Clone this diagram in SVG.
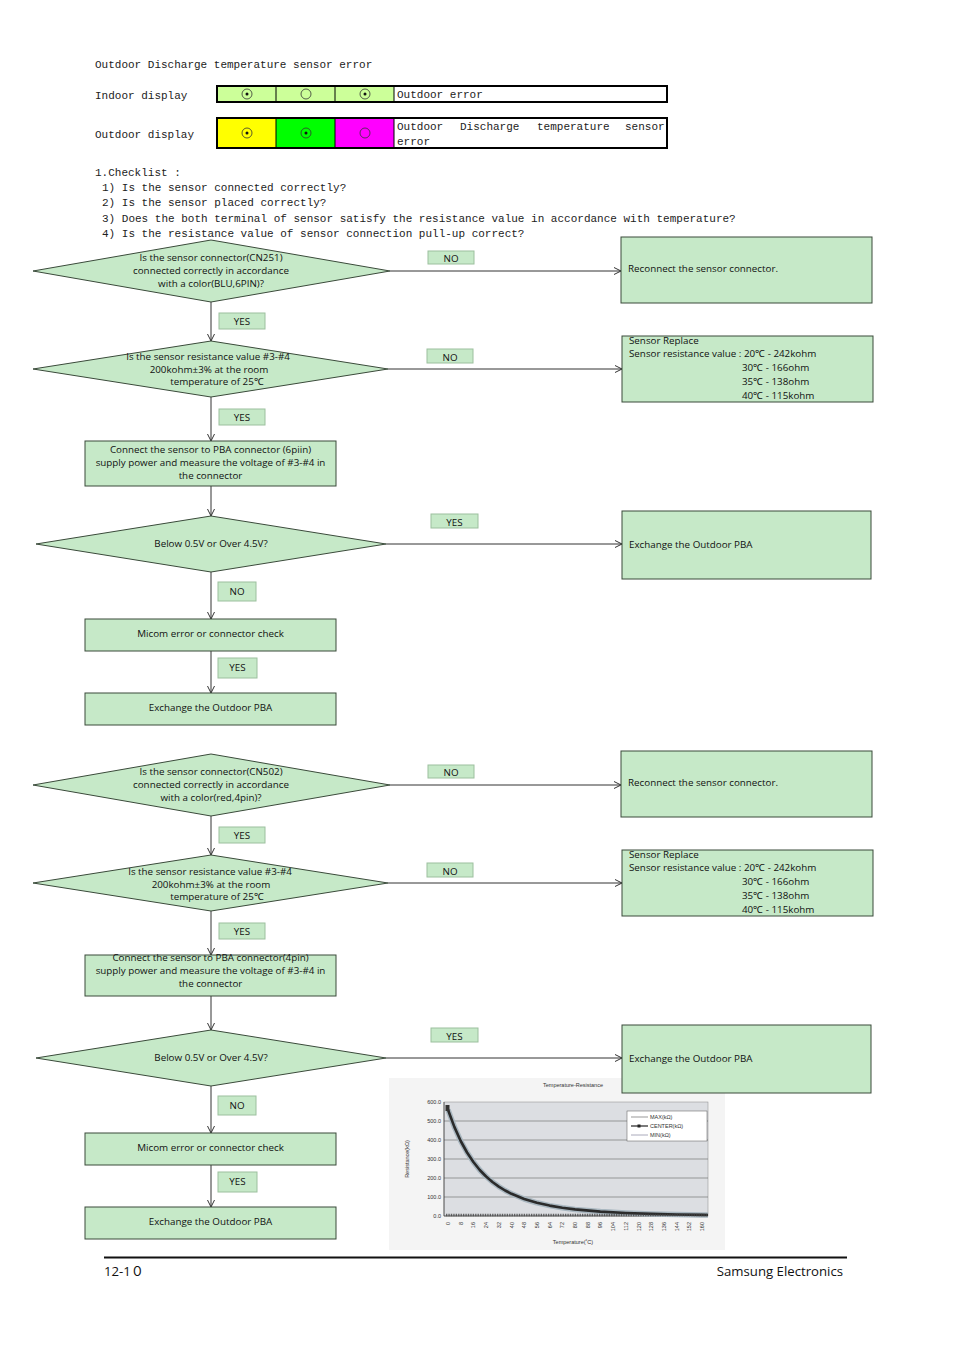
<svg xmlns="http://www.w3.org/2000/svg" width="954" height="1350" viewBox="0 0 954 1350">
<defs>
<style>
.mono{font-family:"Liberation Mono",monospace;font-size:11px;fill:#222}
.t{font-family:"Open Sans","Liberation Sans",sans-serif;font-size:9.8px;fill:#111}
.tc{font-family:"Open Sans","Liberation Sans",sans-serif;font-size:9.8px;fill:#111;text-anchor:middle}
.node{fill:#c6e9c8;stroke:#3a4a3a;stroke-width:1}
.lab{fill:#c6e9c8;stroke:#9cbf9e;stroke-width:1}
.edge{stroke:#333;stroke-width:1;fill:none;marker-end:url(#arr)}
.ch{font-family:"Liberation Sans","DejaVu Sans",sans-serif;font-size:5.5px;fill:#333}
.foot{font-family:"Open Sans","Liberation Sans","Noto Sans CJK JP",sans-serif;font-size:13.2px;fill:#111}
</style>
<marker id="arr" viewBox="0 0 8 8" refX="7" refY="4" markerWidth="8" markerHeight="8" orient="auto" markerUnits="userSpaceOnUse">
<path d="M0,0.5 L7,4 L0,7.5" fill="none" stroke="#333" stroke-width="1"/>
</marker>
</defs>
<rect width="954" height="1350" fill="#fff"/>

<!-- header -->
<g id="header">
<text class="mono" x="95" y="68">Outdoor Discharge temperature sensor error</text>
<text class="mono" x="95" y="99">Indoor display</text>
<text class="mono" x="95" y="138">Outdoor display</text>
<rect x="217" y="86" width="177" height="16" fill="#ccff99"/>
<rect x="394" y="86" width="273" height="16" fill="#fff"/>
<line x1="276" y1="86" x2="276" y2="102" stroke="#000"/>
<line x1="335" y1="86" x2="335" y2="102" stroke="#000"/>
<line x1="394" y1="86" x2="394" y2="102" stroke="#000"/>
<rect x="217" y="86" width="450" height="16" fill="none" stroke="#000" stroke-width="2"/>
<circle cx="247" cy="94" r="5" fill="none" stroke="#333" stroke-width="0.8"/><circle cx="247" cy="94" r="1.5" fill="#111"/>
<circle cx="306" cy="94" r="5" fill="none" stroke="#333" stroke-width="0.8"/>
<circle cx="365" cy="94" r="5" fill="none" stroke="#333" stroke-width="0.8"/><circle cx="365" cy="94" r="1.5" fill="#111"/>
<text class="mono" x="397" y="98">Outdoor error</text>
<rect x="217" y="118" width="59" height="30" fill="#ffff00"/>
<rect x="276" y="118" width="59" height="30" fill="#00ff00"/>
<rect x="335" y="118" width="59" height="30" fill="#ff00ff"/>
<rect x="394" y="118" width="273" height="30" fill="#fff"/>
<line x1="276" y1="118" x2="276" y2="148" stroke="#000"/>
<line x1="335" y1="118" x2="335" y2="148" stroke="#000"/>
<line x1="394" y1="118" x2="394" y2="148" stroke="#000"/>
<rect x="217" y="118" width="450" height="30" fill="none" stroke="#000" stroke-width="2"/>
<circle cx="247" cy="133" r="5" fill="none" stroke="#333" stroke-width="0.8"/><circle cx="247" cy="133" r="1.5" fill="#111"/>
<circle cx="306" cy="133" r="5" fill="none" stroke="#333" stroke-width="0.8"/><circle cx="306" cy="133" r="1.5" fill="#111"/>
<circle cx="365" cy="133" r="5" fill="none" stroke="#333" stroke-width="0.8"/>
<text class="mono" y="130"><tspan x="397">Outdoor</tspan><tspan x="460">Discharge</tspan><tspan x="537">temperature</tspan><tspan x="625">sensor</tspan></text>
<text class="mono" x="397" y="145">error</text>
<text class="mono" x="95" y="176">1.Checklist :</text>
<text class="mono" x="102" y="191">1) Is the sensor connected correctly?</text>
<text class="mono" x="102" y="206">2) Is the sensor placed correctly?</text>
<text class="mono" x="102" y="222">3) Does the both terminal of sensor satisfy the resistance value in accordance with temperature?</text>
<text class="mono" x="102" y="237">4) Is the resistance value of sensor connection pull-up correct?</text>
</g>

<!-- chart (raster-like figure) -->
<g id="chart">
<rect x="389" y="1078" width="336" height="172" fill="#f4f4f4"/>
<text class="ch" x="573" y="1087" text-anchor="middle">Temperature-Resistance</text>
<rect x="444" y="1102" width="264" height="114" fill="#dcdee2" stroke="#888" stroke-width="0.5"/>
<g stroke="#666" stroke-width="0.6">
<line x1="444" y1="1121" x2="708" y2="1121"/>
<line x1="444" y1="1140" x2="708" y2="1140"/>
<line x1="444" y1="1159" x2="708" y2="1159"/>
<line x1="444" y1="1178" x2="708" y2="1178"/>
<line x1="444" y1="1197" x2="708" y2="1197"/>
</g>
<line x1="444" y1="1102" x2="444" y2="1216" stroke="#333" stroke-width="0.7"/>
<line x1="444" y1="1216" x2="708" y2="1216" stroke="#333" stroke-width="0.7"/>
<g class="ch" text-anchor="end">
<text x="441" y="1104">600.0</text>
<text x="441" y="1123">500.0</text>
<text x="441" y="1142">400.0</text>
<text x="441" y="1161">300.0</text>
<text x="441" y="1180">200.0</text>
<text x="441" y="1199">100.0</text>
<text x="441" y="1218">0.0</text>
</g>
<text class="ch" x="0" y="0" text-anchor="middle" transform="translate(409,1159) rotate(-90)">Resistance(kΩ)</text>
<path d="M448,1109.8 L454.35,1126.9 L460.7,1141 L467.05,1152.5 L473.4,1162 L479.75,1170 L486.1,1176.5 L492.45,1182 L498.8,1186.6 L505.15,1190.5 L511.5,1193.8 L524.2,1199 L536.9,1202.8 L549.6,1205.6 L562.3,1207.8 L575,1209.4 L600.4,1211.6 L625.8,1213 L651.2,1213.9 L676.6,1214.5 L702,1214.9 L708,1215" fill="none" stroke="#a9b7c0" stroke-width="5.5" stroke-linejoin="round"/>
<path d="M448,1109.8 L454.35,1126.9 L460.7,1141 L467.05,1152.5 L473.4,1162 L479.75,1170 L486.1,1176.5 L492.45,1182 L498.8,1186.6 L505.15,1190.5 L511.5,1193.8 L524.2,1199 L536.9,1202.8 L549.6,1205.6 L562.3,1207.8 L575,1209.4 L600.4,1211.6 L625.8,1213 L651.2,1213.9 L676.6,1214.5 L702,1214.9 L708,1215" fill="none" stroke="#2b2b2b" stroke-width="2.6" stroke-linejoin="round"/>
<rect x="445.5" y="1105" width="4" height="6" fill="#333"/>
<line x1="446" y1="1215" x2="708" y2="1215" stroke="#444" stroke-width="2.5" stroke-dasharray="0.8 0.9"/>
<g class="ch">
<text transform="translate(450,1222) rotate(-90)" text-anchor="end">0</text>
<text transform="translate(462.7,1222) rotate(-90)" text-anchor="end">8</text>
<text transform="translate(475.4,1222) rotate(-90)" text-anchor="end">16</text>
<text transform="translate(488.1,1222) rotate(-90)" text-anchor="end">24</text>
<text transform="translate(500.8,1222) rotate(-90)" text-anchor="end">32</text>
<text transform="translate(513.5,1222) rotate(-90)" text-anchor="end">40</text>
<text transform="translate(526.2,1222) rotate(-90)" text-anchor="end">48</text>
<text transform="translate(538.9,1222) rotate(-90)" text-anchor="end">56</text>
<text transform="translate(551.6,1222) rotate(-90)" text-anchor="end">64</text>
<text transform="translate(564.3,1222) rotate(-90)" text-anchor="end">72</text>
<text transform="translate(577,1222) rotate(-90)" text-anchor="end">80</text>
<text transform="translate(589.7,1222) rotate(-90)" text-anchor="end">88</text>
<text transform="translate(602.4,1222) rotate(-90)" text-anchor="end">96</text>
<text transform="translate(615.1,1222) rotate(-90)" text-anchor="end">104</text>
<text transform="translate(627.8,1222) rotate(-90)" text-anchor="end">112</text>
<text transform="translate(640.5,1222) rotate(-90)" text-anchor="end">120</text>
<text transform="translate(653.2,1222) rotate(-90)" text-anchor="end">128</text>
<text transform="translate(665.9,1222) rotate(-90)" text-anchor="end">136</text>
<text transform="translate(678.6,1222) rotate(-90)" text-anchor="end">144</text>
<text transform="translate(691.3,1222) rotate(-90)" text-anchor="end">152</text>
<text transform="translate(704,1222) rotate(-90)" text-anchor="end">160</text>
</g>
<text class="ch" x="573" y="1244" text-anchor="middle">Temperature(˚C)</text>
<rect x="627" y="1111" width="80" height="30" fill="#fff" stroke="#555" stroke-width="0.5"/>
<line x1="631" y1="1117" x2="648" y2="1117" stroke="#999" stroke-width="1"/>
<line x1="631" y1="1126" x2="648" y2="1126" stroke="#222" stroke-width="1.2"/>
<rect x="637.5" y="1124.5" width="3" height="3" fill="#222"/>
<line x1="631" y1="1135" x2="648" y2="1135" stroke="#aab" stroke-width="1"/>
<text class="ch" x="650" y="1119">MAX(kΩ)</text>
<text class="ch" x="650" y="1128">CENTER(kΩ)</text>
<text class="ch" x="650" y="1137">MIN(kΩ)</text>
</g>

<!-- connectors -->
<g id="connectors">
<line class="edge" x1="211" y1="302" x2="211" y2="341"/>
<line class="edge" x1="390" y1="271" x2="621" y2="271"/>
<line class="edge" x1="211" y1="397" x2="211" y2="441"/>
<line class="edge" x1="388" y1="369" x2="622" y2="369"/>
<line class="edge" x1="211" y1="486" x2="211" y2="516"/>
<line class="edge" x1="386" y1="544" x2="622" y2="544"/>
<line class="edge" x1="211" y1="572" x2="211" y2="619"/>
<line class="edge" x1="211" y1="651" x2="211" y2="693"/>

<line class="edge" x1="211" y1="816" x2="211" y2="855"/>
<line class="edge" x1="390" y1="785" x2="621" y2="785"/>
<line class="edge" x1="211" y1="911" x2="211" y2="955"/>
<line class="edge" x1="388" y1="883" x2="622" y2="883"/>
<line class="edge" x1="211" y1="996" x2="211" y2="1030"/>
<line class="edge" x1="386" y1="1058" x2="622" y2="1058"/>
<line class="edge" x1="211" y1="1086" x2="211" y2="1133"/>
<line class="edge" x1="211" y1="1165" x2="211" y2="1207"/>
</g>

<!-- edge labels -->
<g id="labels">
<rect class="lab" x="428" y="251" width="46" height="13"/><text class="tc" x="451" y="261.5">NO</text>
<rect class="lab" x="219" y="313" width="46" height="16"/><text class="tc" x="242" y="324.5">YES</text>
<rect class="lab" x="427" y="349" width="46" height="14"/><text class="tc" x="450" y="360.5">NO</text>
<rect class="lab" x="219" y="409" width="46" height="16"/><text class="tc" x="242" y="420.5">YES</text>
<rect class="lab" x="431" y="514" width="47" height="14"/><text class="tc" x="454.5" y="525.5">YES</text>
<rect class="lab" x="218" y="582" width="38" height="19"/><text class="tc" x="237" y="594.5">NO</text>
<rect class="lab" x="218" y="658" width="39" height="20"/><text class="tc" x="237.5" y="671">YES</text>

<rect class="lab" x="428" y="765" width="46" height="13"/><text class="tc" x="451" y="775.5">NO</text>
<rect class="lab" x="219" y="827" width="46" height="16"/><text class="tc" x="242" y="838.5">YES</text>
<rect class="lab" x="427" y="863" width="46" height="14"/><text class="tc" x="450" y="874.5">NO</text>
<rect class="lab" x="219" y="923" width="46" height="16"/><text class="tc" x="242" y="934.5">YES</text>
<rect class="lab" x="431" y="1028" width="47" height="14"/><text class="tc" x="454.5" y="1039.5">YES</text>
<rect class="lab" x="218" y="1096" width="38" height="19"/><text class="tc" x="237" y="1108.5">NO</text>
<rect class="lab" x="218" y="1172" width="39" height="20"/><text class="tc" x="237.5" y="1185">YES</text>
</g>

<!-- flowchart 1 -->
<g id="d1"><polygon class="node" points="211,240 390,271 211,302 33,271"/>
<text class="tc" x="211" y="261">Is the sensor connector(CN251)</text>
<text class="tc" x="211" y="274">connected correctly in accordance</text>
<text class="tc" x="211" y="287">with a color(BLU,6PIN)?</text></g>
<g id="r1"><rect class="node" x="621" y="237" width="251" height="66"/>
<text class="t" x="628" y="272">Reconnect the sensor connector.</text></g>
<g id="d2"><polygon class="node" points="211,341 388,369 211,397 33,369"/>
<text class="tc" x="208" y="360">Is the sensor resistance value #3-#4</text>
<text class="tc" x="209" y="373">200kohm±3% at the room</text>
<text class="tc" x="217" y="385">temperature of 25℃</text></g>
<g id="r2"><rect class="node" x="622" y="336" width="251" height="66"/>
<text class="t" x="629" y="344">Sensor Replace</text>
<text class="t" x="629" y="357">Sensor resistance value : 20℃ -  242kohm</text>
<text class="t" x="742" y="371">30℃ -  166ohm</text>
<text class="t" x="742" y="385">35℃ -  138ohm</text>
<text class="t" x="742" y="399">40℃ -  115kohm</text></g>
<g id="b1"><rect class="node" x="85" y="441" width="251" height="45"/>
<text class="tc" x="210.5" y="453">Connect the sensor to PBA connector (6piin)</text>
<text class="tc" x="210.5" y="466">supply power and measure the voltage of #3-#4 in</text>
<text class="tc" x="210.5" y="479">the connector</text></g>
<g id="d3"><polygon class="node" points="211,516 386,544 211,572 36,544"/>
<text class="tc" x="211" y="547">Below 0.5V or Over 4.5V?</text></g>
<g id="r3"><rect class="node" x="622" y="511" width="249" height="68"/>
<text class="t" x="629" y="548">Exchange the Outdoor PBA</text></g>
<g id="b2"><rect class="node" x="85" y="619" width="251" height="32"/>
<text class="tc" x="210.5" y="637">Micom error or connector check</text></g>
<g id="b3"><rect class="node" x="85" y="693" width="251" height="32"/>
<text class="tc" x="210.5" y="711">Exchange the Outdoor PBA</text></g>

<!-- flowchart 2 -->
<g id="d1b"><polygon class="node" points="211,754 390,785 211,816 33,785"/>
<text class="tc" x="211" y="775">Is the sensor connector(CN502)</text>
<text class="tc" x="211" y="788">connected correctly in accordance</text>
<text class="tc" x="211" y="801">with a color(red,4pin)?</text></g>
<g id="r1b"><rect class="node" x="621" y="751" width="251" height="66"/>
<text class="t" x="628" y="786">Reconnect the sensor connector.</text></g>
<g id="d2b"><polygon class="node" points="211,855 388,883 211,911 33,883"/>
<text class="tc" x="210" y="875">Is the sensor resistance value #3-#4</text>
<text class="tc" x="211" y="888">200kohm±3% at the room</text>
<text class="tc" x="217" y="900">temperature of 25℃</text></g>
<g id="r2b"><rect class="node" x="622" y="850" width="251" height="66"/>
<text class="t" x="629" y="858">Sensor Replace</text>
<text class="t" x="629" y="871">Sensor resistance value : 20℃ -  242kohm</text>
<text class="t" x="742" y="885">30℃ -  166ohm</text>
<text class="t" x="742" y="899">35℃ -  138ohm</text>
<text class="t" x="742" y="913">40℃ -  115kohm</text></g>
<g id="b1b"><rect class="node" x="85" y="955" width="251" height="41"/>
<text class="tc" x="210.5" y="961">Connect the sensor to PBA connector(4pin)</text>
<text class="tc" x="210.5" y="974">supply power and measure the voltage of #3-#4 in</text>
<text class="tc" x="210.5" y="987">the connector</text></g>
<g id="d3b"><polygon class="node" points="211,1030 386,1058 211,1086 36,1058"/>
<text class="tc" x="211" y="1061">Below 0.5V or Over 4.5V?</text></g>
<g id="r3b"><rect class="node" x="622" y="1025" width="249" height="68"/>
<text class="t" x="629" y="1062">Exchange the Outdoor PBA</text></g>
<g id="b2b"><rect class="node" x="85" y="1133" width="251" height="32"/>
<text class="tc" x="210.5" y="1151">Micom error or connector check</text></g>
<g id="b3b"><rect class="node" x="85" y="1207" width="251" height="32"/>
<text class="tc" x="210.5" y="1225">Exchange the Outdoor PBA</text></g>

<!-- footer -->
<g id="footer">
<line x1="104" y1="1257.5" x2="847" y2="1257.5" stroke="#111" stroke-width="2"/>
<text class="foot" x="104" y="1276">12-1０</text>
<text class="foot" x="843" y="1276" text-anchor="end">Samsung Electronics</text>
</g>
</svg>
